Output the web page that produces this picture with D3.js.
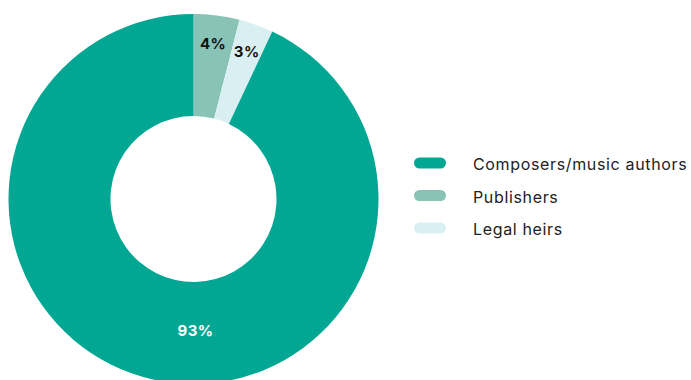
<!DOCTYPE html>
<html>
<head>
<meta charset="utf-8">
<script src="https://cdn.jsdelivr.net/npm/d3@7"></script>
<style>
  html, body { margin: 0; padding: 0; background: #fff; }
  svg { display: block; }
</style>
</head>
<body>
<svg id="chart" width="691" height="380"></svg>
<script>
// Share of rights holders
const categories = ["Composers/music authors", "Publishers", "Legal heirs"];
const shares = [93, 4, 3];
const colors = ["#02a794", "#88c3b6", "#daeff2"];
const labelColors = ["#ffffff", "#111111", "#111111"];

// Slices are drawn clockwise from 12 o'clock in this order
const drawOrder = [1, 2, 0];

const svg = d3.select("#chart");
const cx = 193.5, cy = 199;
const outerR = 185, innerR = 83;

const data = drawOrder.map(i => ({ name: categories[i], value: shares[i], color: colors[i], label: labelColors[i] }));

const pie = d3.pie().sort(null).value(d => d.value);
const arcs = pie(data);
const arc = d3.arc().innerRadius(innerR).outerRadius(outerR);

const g = svg.append("g").attr("transform", `translate(${cx},${cy})`);

g.selectAll("path.slice")
  .data(arcs)
  .join("path")
  .attr("class", "slice")
  .attr("d", arc)
  .attr("fill", d => d.data.color);

// Small slices get their label near the outer rim; the dominant slice at the bottom of the ring
const smallR = 157, bigR = 131;
g.selectAll("text.pct")
  .data(arcs)
  .join("text")
  .attr("class", "pct")
  .each(function (d) {
    const big = d.data.value > 50;
    const a = big ? Math.PI : (d.startAngle + d.endAngle) / 2;
    const r = big ? bigR : smallR;
    d3.select(this)
      .attr("x", r * Math.sin(a) + (big ? 2 : 0))
      .attr("y", -r * Math.cos(a));
  })
  .attr("text-anchor", "middle")
  .attr("dominant-baseline", "central")
  .attr("font-family", "Inter, 'Open Sans', sans-serif")
  .attr("font-weight", 700)
  .attr("font-size", 15)
  .attr("letter-spacing", 0.5)
  .attr("fill", d => d.data.label)
  .text(d => d.data.value + "%");

// Legend
const legend = svg.append("g").attr("transform", "translate(414,163)");
const rowH = 32.5;
const items = legend.selectAll("g.item")
  .data(categories)
  .join("g")
  .attr("class", "item")
  .attr("transform", (d, i) => `translate(0,${i * rowH})`);

items.append("rect")
  .attr("x", 0).attr("y", -5.5)
  .attr("width", 32).attr("height", 11)
  .attr("rx", 5.5)
  .attr("fill", (d, i) => colors[i]);

items.append("text")
  .attr("x", 59)
  .attr("y", 1)
  .attr("dominant-baseline", "central")
  .attr("font-family", "Inter, 'Open Sans', sans-serif")
  .attr("font-size", 16)
  .attr("letter-spacing", 0.65)
  .attr("fill", "#222")
  .text(d => d);
</script>
</body>
</html>
